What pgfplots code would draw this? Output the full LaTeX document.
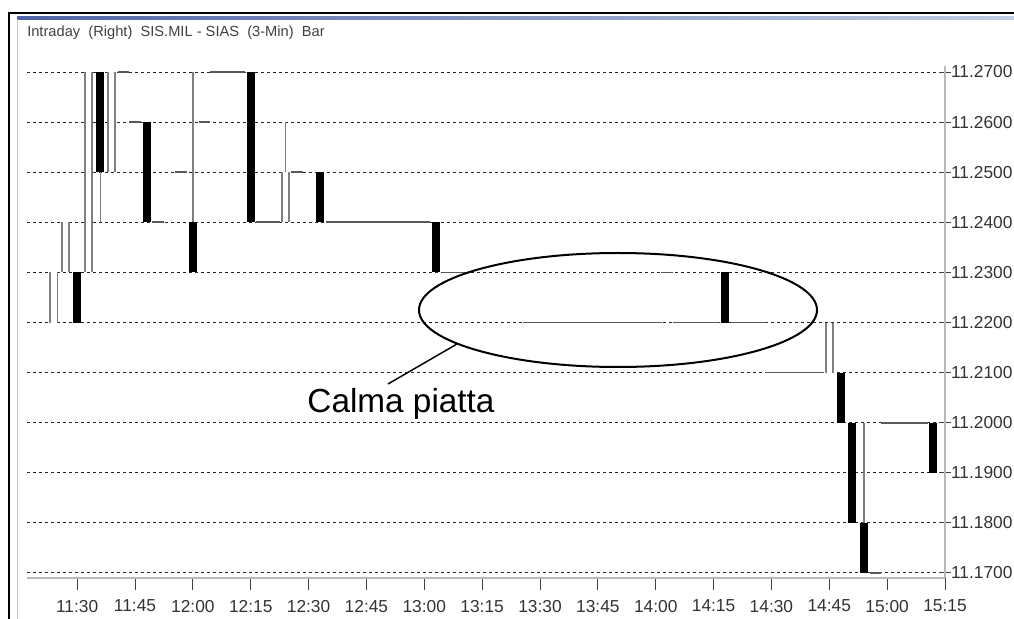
\documentclass[border=0pt]{standalone}
\usepackage{fontspec}
\setmainfont{Liberation Sans}
\usepackage{pgfplots}
\usepackage{pgfplotstable}
\pgfplotsset{compat=1.18}

% time = minutes after 11:30, one bar every 3 minutes
% each bar: open row, close row, then a nan row to break the line
% down bars (filled)
\pgfplotstableread{
t   p
0   11.23
0   11.22
nan nan
6   11.27
6   11.25
nan nan
18  11.26
18  11.24
nan nan
30  11.24
30  11.23
nan nan
45  11.27
45  11.24
nan nan
63  11.25
63  11.24
nan nan
93  11.24
93  11.23
nan nan
168 11.23
168 11.22
nan nan
198 11.21
198 11.20
nan nan
201 11.20
201 11.18
nan nan
204 11.18
204 11.17
nan nan
222 11.20
222 11.19
}\downbars

% up bars (hollow)
\pgfplotstableread{
t   p
-6  11.22
-6  11.23
nan nan
-3  11.23
-3  11.24
nan nan
3   11.23
3   11.27
nan nan
9   11.25
9   11.27
nan nan
54  11.24
54  11.25
nan nan
195 11.21
195 11.22
}\upbars

% high-low wicks
\pgfplotstableread{
t   p
6   11.24
6   11.27
nan nan
30  11.23
30  11.27
nan nan
54  11.24
54  11.26
nan nan
204 11.17
204 11.20
}\wicks

% bars with open = close = high = low
\pgfplotstableread{
t   p
12  11.27
15  11.26
21  11.24
27  11.25
33  11.26
36  11.27
39  11.27
42  11.27
48  11.24
51  11.24
57  11.25
66  11.24
69  11.24
72  11.24
75  11.24
78  11.24
81  11.24
84  11.24
87  11.24
90  11.24
96  11.23
99  11.23
117 11.22
120 11.22
123 11.22
126 11.22
129 11.22
132 11.22
135 11.22
138 11.22
141 11.22
144 11.22
147 11.22
150 11.22
153 11.23
156 11.22
159 11.22
162 11.22
165 11.22
171 11.22
174 11.22
177 11.22
180 11.21
183 11.21
186 11.21
189 11.21
192 11.21
207 11.17
210 11.20
213 11.20
216 11.20
219 11.20
}\flats

\begin{document}
\begin{tikzpicture}
\begin{axis}[
    at={(20.25pt,30pt)}, anchor=south west,
    scale only axis,
    width=688.5pt, height=384pt,
    xmin=-13, xmax=225,
    ymin=11.169, ymax=11.2712,
    unbounded coords=jump,
    axis x line*=bottom, axis y line*=right,
    axis line style={-, gray!55, line width=1.5pt},
    xtick={0,15,...,225},
    xticklabels={11:30,11:45,12:00,12:15,12:30,12:45,13:00,13:15,13:30,13:45,14:00,14:15,14:30,14:45,15:00,15:15},
    ytick={11.17,11.18,11.19,11.20,11.21,11.22,11.23,11.24,11.25,11.26,11.27},
    /pgf/number format/assume math mode=true,
    y tick label style={/pgf/number format/fixed, /pgf/number format/fixed zerofill, /pgf/number format/precision=4, anchor=west, xshift=-3.5pt},
    x tick label style={yshift=-4pt},
    tick label style={font=\fontsize{13}{14}\selectfont, text=black!80},
    xtick align=outside, ytick align=center,
    major tick length=9pt,
    tick style={gray!50!black, line width=0.75pt},
    ymajorgrids,
    major grid style={dash pattern=on 2.25pt off 2.25pt, black!85, line width=0.75pt},
]
% wicks
\addplot[black!50, line width=1.1pt, mark=none, forget plot] table[x=t, y=p] {\wicks};
% hollow bodies: grey outline, white inside
\addplot[black!50, line width=6.75pt, mark=none, forget plot] table[x=t, y=p] {\upbars};
\addplot[white, line width=3.9pt, mark=none, forget plot] table[x=t, y=p] {\upbars};
% filled bodies
\addplot[black, line width=6pt, mark=none, forget plot] table[x=t, y=p] {\downbars};
% flat bars
\addplot[only marks, mark=-, mark size=4.4pt,
    mark options={black!65, line width=1.3pt}, forget plot]
    table[x=t, y=p] {\flats};
\end{axis}

% window frame, title and annotation (pixel units from top left)
\begin{scope}[x=0.75pt, y=-0.75pt, shift={(0pt,463.5pt)}]
  \draw[black, line width=1.5pt] (9,640) -- (9,13) -- (1040,13);
  \shade[left color={rgb,255:red,80;green,100;blue,165}, right color={rgb,255:red,195;green,208;blue,228}]
    (17,16.5) rectangle (1040,19.5);
  \draw[gray!45, line width=0.75pt] (17,19) -- (17,640);
  \node[anchor=west, inner sep=0pt, font=\fontsize{11}{13}\selectfont, text=black!75]
    at (27,33) {Intraday\ \ (Right)\ \ SIS.MIL - SIAS\ \ (3-Min)\ \ Bar};
  \draw[black, line width=1.5pt] (618,310) ellipse [x radius=149.25pt, y radius=42.75pt];
  \draw[black, line width=1.1pt] (457,344) -- (388,384);
  \node[font=\fontsize{25}{30}\selectfont] at (401,404) {Calma piatta};
\end{scope}

\pgfresetboundingbox
\useasboundingbox (0,0) rectangle (760.5pt,463.5pt);
\end{tikzpicture}
\end{document}
